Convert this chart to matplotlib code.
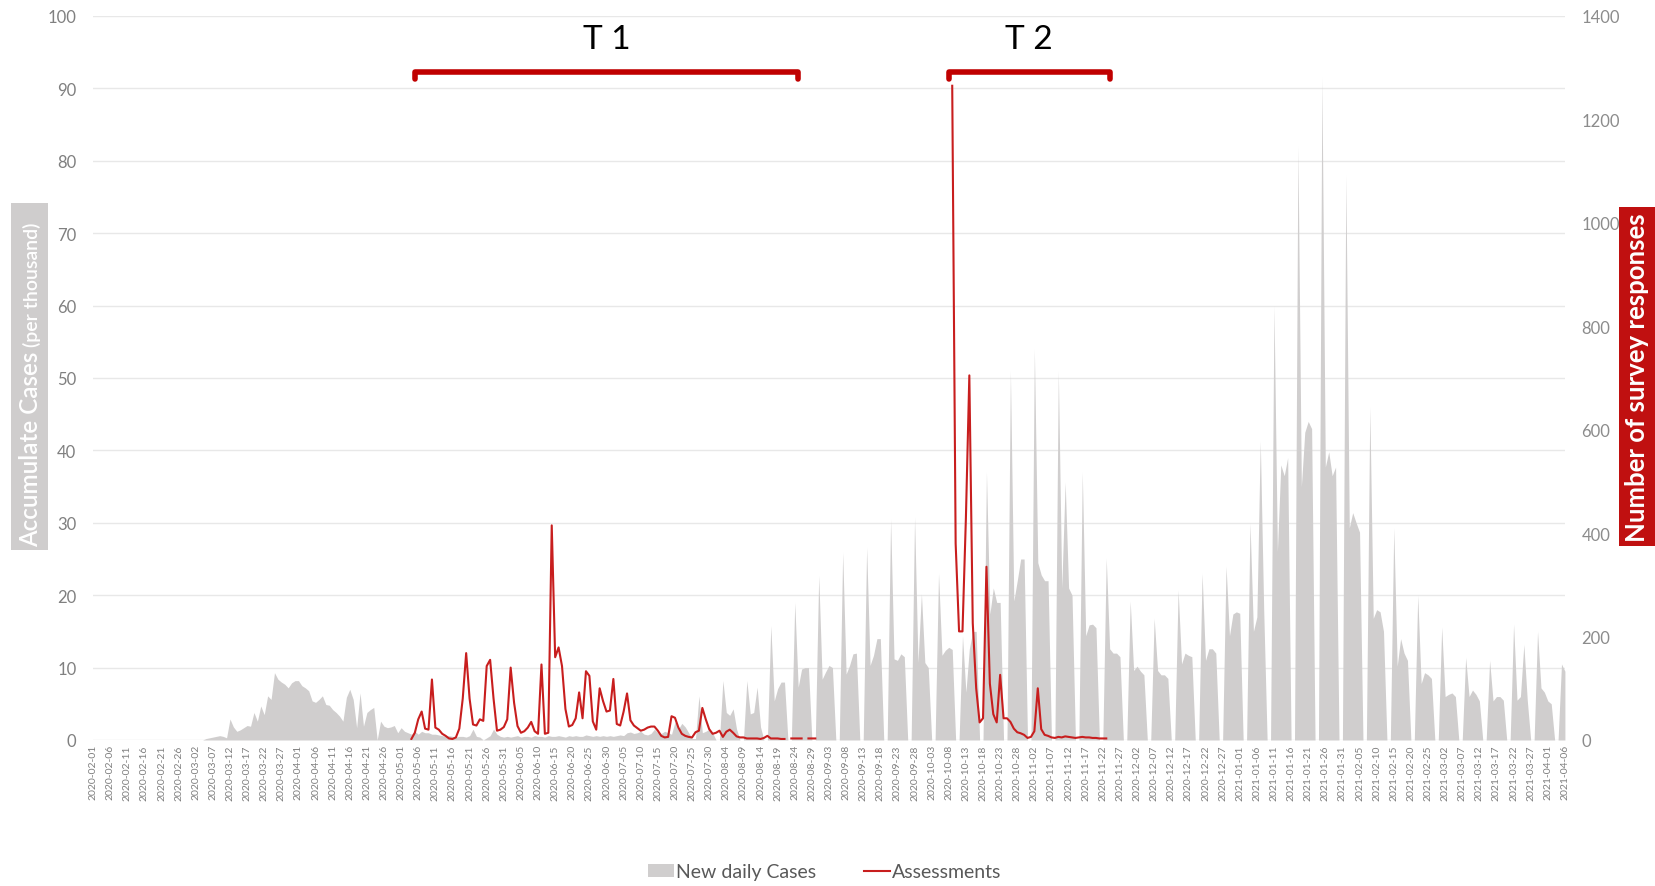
import matplotlib
matplotlib.use("Agg")
import matplotlib.pyplot as plt
from matplotlib.patches import Patch, Rectangle
from matplotlib.lines import Line2D
import numpy as np
import pandas as pd

plt.rcParams['font.family'] = ['Lato', 'DejaVu Sans']

# one value per day, 2020-02-01 .. 2021-04-06
dates = pd.date_range('2020-02-01', '2021-04-06', freq='D')

# new daily cases (left axis), Feb - early May 2020
cases_early = [
    0, 0, 0, 0, 0, 0, 0, 0, 0, 0,
    0, 0, 0, 0, 0, 0, 0, 0, 0, 0,
    0, 0, 0, 0, 0, 0, 0, 0, 0, 0,
    0, 0, 0, 0.2, 0.3, 0.4, 0.5, 0.6, 0.5, 0.3,
    2.9, 1.8, 1.2, 1.4, 1.7, 2.0, 1.9, 3.8, 2.6, 4.7,
    3.5, 6.1, 5.6, 9.3, 8.4, 8.0, 7.7, 7.2, 7.9, 8.2,
    8.2, 7.5, 7.2, 6.8, 5.4, 5.2, 5.6, 6.1, 4.9, 4.8,
    4.2, 3.8, 3.3, 2.6, 5.9, 7.0, 5.6, 1.7, 6.5, 1.9,
    3.8, 4.2, 4.5, 0.0, 2.6, 1.9, 1.7, 1.8, 2.0, 1.0,
    1.7, 1.2, 1.0, 0.8, 1.2, 0.8, 1.2, 1.0, 1.0, 0.8,
    0.8,
]
# May - late July 2020
cases_summer = [
    0.7, 0.6, 0.5, 0.6, 0.5, 0.4, 0.5, 0.5, 0.4, 0.6,
    1.5, 0.5, 0.4, 0.0, 0.3, 0.6, 1.5, 0.8, 0.5, 0.4,
    0.5, 0.4, 0.5, 0.6, 0.4, 0.5, 0.5, 0.4, 0.6, 0.5,
    0.5, 0.4, 0.6, 0.5, 0.5, 0.6, 0.5, 0.4, 0.6, 0.5,
    0.6, 0.5, 0.5, 0.7, 0.6, 0.5, 0.6, 0.5, 0.6, 0.5,
    0.6, 0.5, 0.6, 0.7, 0.6, 1.0, 1.1, 0.9, 1.0, 1.2,
    0.8, 0.7, 0.9, 1.5, 1.0, 0.9, 1.2, 1.0, 0.8, 2.5,
    1.5, 2.3, 1.8, 1.0, 0.2, 0.2,
]
# weekly reporting from 2020-07-27 (Mon .. Sun per row)
cases_weekly = [
    6.1, 1.0, 1.2, 1.5, 1.0, 0, 0,
    8.2, 3.8, 3.4, 4.3, 1.5, 0, 0,
    8.2, 3.6, 3.8, 7.3, 1.8, 0, 0,
    15.8, 5.4, 7.1, 8.0, 8.0, 0, 0,
    19.0, 7.3, 9.8, 10.0, 10.0, 0, 0,
    22.7, 8.4, 9.4, 10.3, 10.0, 0, 0,
    25.9, 9.1, 10.3, 11.9, 12.0, 0, 0,
    26.6, 10.3, 11.7, 14.0, 14.0, 0, 0,
    30.5, 11.2, 11.0, 11.9, 11.5, 0, 0,
    30.8, 10.7, 20.2, 10.7, 10.0, 0, 0,
    23.0, 11.7, 12.4, 12.8, 12.5, 0, 0,
    14.4, 6.6, 12.6, 15.0, 15.0, 0, 0,
    37.0, 17.4, 21.0, 19.0, 19.0, 0, 0,
    51.0, 19.2, 22.0, 25.0, 25.0, 0, 0,
    54.0, 24.5, 22.8, 22.0, 22.0, 0, 0,
    51.0, 21.0, 35.6, 21.0, 20.0, 0, 0,
    37.0, 14.4, 15.9, 16.0, 15.5, 0, 0,
    25.1, 12.6, 12.0, 12.0, 11.5, 0, 0,
    19.2, 9.6, 10.2, 9.5, 9.0, 0, 0,
    16.8, 9.6, 9.0, 9.0, 8.5, 0, 0,
    20.7, 10.5, 12.0, 11.7, 11.5, 0, 0,
    23.0, 11.0, 12.6, 12.6, 12.0, 0, 0,
    24.0, 14.4, 17.4, 17.7, 17.5, 0, 0,
    30.0, 15.0, 17.0, 41.3, 18.0, 0, 0,
    60.0, 26.0, 38.0, 36.5, 39.0, 0, 0,
    82.0, 35.0, 42.5, 44.0, 43.0, 0, 0,
    91.6, 37.7, 39.8, 36.5, 37.7, 0, 0,
    78.0, 29.3, 31.4, 30.0, 28.7, 0, 0,
    46.0, 16.8, 18.0, 17.7, 15.0, 0, 0,
    29.3, 10.2, 14.0, 12.0, 11.0, 0, 0,
    20.0, 7.8, 9.3, 9.0, 8.5, 0, 0,
    15.6, 6.0, 6.3, 6.5, 6.0, 0, 0,
    11.4, 6.0, 6.9, 6.3, 5.4, 0, 0,
    11.0, 5.4, 6.0, 6.0, 5.5, 0, 0,
    16.0, 5.5, 6.0, 13.2, 5.5, 0, 0,
    15.0, 7.2, 6.6, 5.4, 5.0, 0, 0,
    10.5, 9.5,
]

# assessments (right axis), survey round 1 from 2020-05-04
t1_start = '2020-05-04'
assess_t1 = [
    2, 14, 40, 55, 22, 20, 117, 24, 20, 12,
    8, 3, 2, 5, 22, 80, 168, 80, 30, 28,
    40, 37, 143, 155, 80, 18, 20, 25, 40, 140,
    72, 27, 14, 17, 24, 35, 17, 12, 146, 12,
    14, 415, 160, 179, 143, 60, 26, 29, 42, 92,
    42, 133, 124, 36, 20, 100, 75, 55, 57, 118,
    31, 28, 55, 90, 38, 28, 23, 18, 20, 24,
    26, 26, 18, 8, 5, 6, 46, 43, 24, 12,
    8, 6, 5, 15, 18, 62, 40, 21, 12, 14,
    18, 6, 16, 20, 14, 7, 5, 5, 3, 3,
    3, 3, 2, 4, 8, 3, 3, 3, 2, 2,
    np.nan, 3, 3, 3, 3, np.nan, 3, 3, 3,
]
# survey round 2 from 2020-10-09
t2_start = '2020-10-09'
assess_t2 = [
    1265, 380, 210, 210, 430, 705, 226, 100, 34, 42,
    335, 109, 50, 34, 126, 42, 42, 35, 22, 15,
    13, 10, 4, 6, 17, 100, 21, 10, 8, 5,
    4, 6, 5, 7, 6, 5, 4, 5, 6, 5,
    5, 4, 4, 3, 3, 3,
]

# survey periods for the brackets
period_names = ['T 1', 'T 2']
period_start = ['2020-05-05', '2020-10-08']
period_end = ['2020-08-25', '2020-11-24']

gray = '#d0cece'
red = '#c81e1e'
dark_red = '#c00000'

new_cases = np.array(cases_early + cases_summer + cases_weekly)
x = np.arange(len(dates))

assess = pd.Series(np.nan, index=dates)
assess[pd.date_range(t1_start, periods=len(assess_t1))] = assess_t1
assess[pd.date_range(t2_start, periods=len(assess_t2))] = assess_t2


def day(d):
    return (pd.Timestamp(d) - dates[0]).days


fig = plt.figure(figsize=(16.56, 8.87), dpi=100)
ax = fig.add_axes([0.0562, 0.1646, 0.8888, 0.8163])
ax2 = ax.twinx()

ax.fill_between(x, new_cases, 0, color=gray, linewidth=0)
ax2.plot(x, assess.values, color=red, lw=1.5)

ax.set_xlim(0, len(dates) - 1)
ax.set_ylim(0, 100)
ax2.set_ylim(0, 1400)
ax.set_yticks(np.arange(0, 101, 10))
ax2.set_yticks(np.arange(0, 1401, 200))
ax.grid(axis='y', color='#e8e8e8', lw=1)
ax.set_axisbelow(True)

ticks = x[::5]
ax.set_xticks(ticks)
ax.set_xticklabels([dates[i].strftime('%Y-%m-%d') for i in ticks],
                   rotation=90, fontsize=7.5, color='#7f7f7f')
ax.tick_params(axis='x', length=0, pad=3)
ax.tick_params(axis='y', length=0, pad=12, labelsize=12, labelcolor='#808080')
ax2.tick_params(axis='y', length=0, pad=12, labelsize=12, labelcolor='#8c8c8c')
for a in (ax, ax2):
    for s in a.spines.values():
        s.set_visible(False)

# T1 / T2 brackets
for name, s, e in zip(period_names, period_start, period_end):
    a, b = day(s), day(e)
    ax.plot([a, a, b, b], [91.3, 92.3, 92.3, 91.3], color=dark_red, lw=4,
            solid_joinstyle='round', solid_capstyle='round', clip_on=False)
    ax.text((a + b) / 2, 96.8, name, ha='center', va='center', fontsize=24,
            color='black')

# axis title boxes
fig.patches.append(Rectangle((0.0066, 0.379), 0.0224, 0.391, transform=fig.transFigure,
                             facecolor='#cfcdcd', edgecolor='none'))
lab1 = fig.text(0.0232, 0.383, 'Accumulate Cases', rotation=90, rotation_mode='anchor',
                ha='left', va='baseline', fontsize=17.5, color='white',
                fontweight='semibold')
fig.canvas.draw()
bb = lab1.get_window_extent()
fig.text(0.0232, bb.y1 / fig.bbox.height + 0.006, '(per thousand)', rotation=90,
         rotation_mode='anchor', ha='left', va='baseline', fontsize=14,
         color='white', fontweight='semibold')

fig.patches.append(Rectangle((0.9776, 0.383), 0.0224, 0.383, transform=fig.transFigure,
                             facecolor='#c01010', edgecolor='none'))
fig.text(0.9888, 0.5745, 'Number of survey responses', rotation=90, ha='center',
         va='center', fontsize=18.5, color='white', fontweight='bold')

handles = [Patch(facecolor=gray, edgecolor='none'), Line2D([], [], color=red, lw=1.5)]
fig.legend(handles, ['New daily Cases', 'Assessments'], loc='center',
           bbox_to_anchor=(0.498, 0.016), ncol=2, frameon=False, fontsize=14,
           handlelength=1.3, handletextpad=0.1, columnspacing=2.5,
           labelcolor='#595959')

fig.savefig('out.png', dpi=100)
